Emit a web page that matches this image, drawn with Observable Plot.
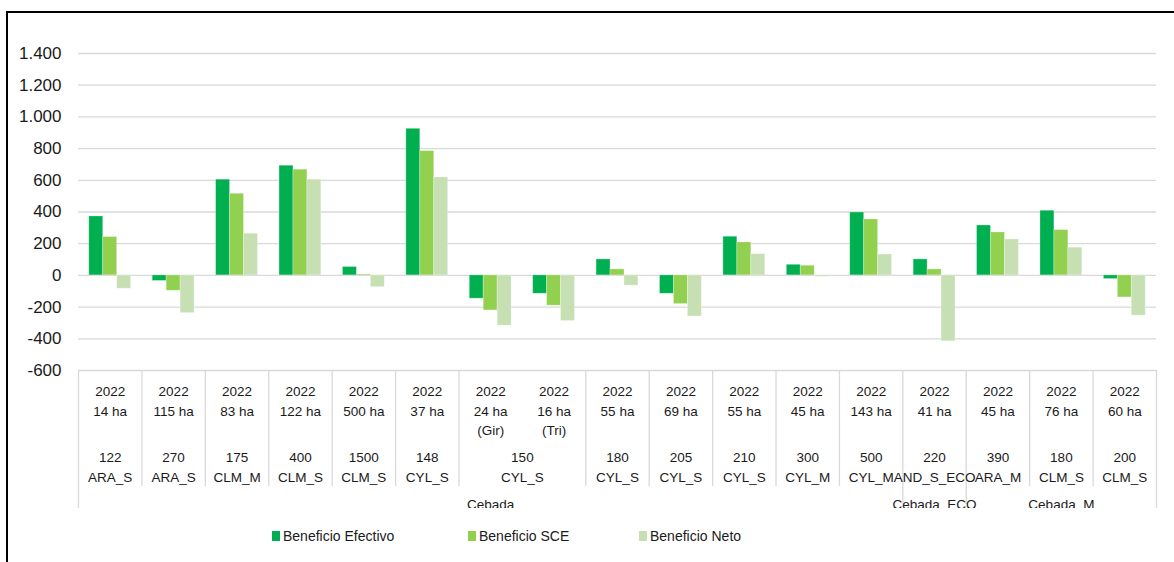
<!DOCTYPE html>
<html><head><meta charset="utf-8">
<script src="https://cdn.jsdelivr.net/npm/d3@7"></script>
<script src="https://cdn.jsdelivr.net/npm/@observablehq/plot@0.6"></script>
<style>
html,body{margin:0;padding:0;background:#fff;overflow:hidden;width:1174px;height:562px;}
#chart{position:absolute;left:0;top:0;}
#frame{position:absolute;left:6px;top:11px;width:1300px;height:700px;border:2px solid #000;pointer-events:none;}
#legend{position:absolute;left:0;top:526px;width:1174px;height:20px;font:14px "Liberation Sans",Arial,sans-serif;color:#1a1a1a;}
.item{position:absolute;top:0;display:flex;align-items:center;white-space:nowrap;height:20px;}
.sw{width:8px;height:10px;margin-right:3px;}
</style></head>
<body>
<div id="chart"></div>
<div id="legend"></div>
<div id="frame"></div>
<script>
const series = ["Beneficio Efectivo", "Beneficio SCE", "Beneficio Neto"];
const colors = ["#00B050", "#92D050", "#C6E0B4"];
const years = ["2022","2022","2022","2022","2022","2022","2022","2022","2022","2022","2022","2022","2022","2022","2022","2022","2022"];
const hectares = ["14 ha","115 ha","83 ha","122 ha","500 ha","37 ha","24 ha\n(Gir)","16 ha\n(Tri)","55 ha","69 ha","55 ha","45 ha","143 ha","41 ha","45 ha","76 ha","60 ha"];
const efectivo = [372, -35, 604, 692, 53, 925, -147, -116, 101, -116, 244, 67, 397, 101, 315, 408, -23];
const sce      = [242, -97, 515, 667, 6, 784, -221, -191, 38, -181, 208, 61, 353, 38, 271, 286, -139];
const neto     = [-84, -238, 263, 604, -74, 618, -317, -288, -65, -259, 134, -9, 132, -416, 227, 175, -254];
const level2Labels = ["122\nARA_S","270\nARA_S","175\nCLM_M","400\nCLM_S","1500\nCLM_S","148\nCYL_S","150\nCYL_S","180\nCYL_S","205\nCYL_S","210\nCYL_S","300\nCYL_M","500\nCYL_M","220\nAND_S_ECO","390\nARA_M","180\nCLM_S","200\nCLM_S"];
const level2Spans = [1,1,1,1,1,1,2,1,1,1,1,1,1,1,1,1];
const level3Labels = ["Cebada", "Cebada_ECO", "Cebada_M"];
const level3Spans = [13, 1, 3];

const values = [efectivo, sce, neto];
const n = years.length;
const barW = 0.22;
const start = (1 - 3 * barW) / 2;
const bars = [];
for (let i = 0; i < n; i++) {
  for (let k = 0; k < 3; k++) {
    bars.push({x1: i + start + k * barW, x2: i + start + (k + 1) * barW, v: values[k][i], s: series[k]});
  }
}
function groups(labels, spans) {
  let acc = 0;
  return labels.map((label, j) => {
    const a = acc; acc += spans[j];
    return {label, a, b: acc, c: (a + acc) / 2};
  });
}
const g2 = groups(level2Labels, level2Spans);
const g3 = groups(level3Labels, level3Spans);
const b3 = [...new Set(g3.flatMap(g => [g.a, g.b]))];
const outer = [0, n];
const inner3 = b3.filter(b => b !== 0 && b !== n);
const b2 = [...new Set(g2.flatMap(g => [g.a, g.b]))].filter(b => !b3.includes(b));
const cats = d3.range(n).map(i => ({c: i + 0.5, t: years[i] + "\n" + hectares[i]}));

const loc = d3.formatLocale({decimal: ",", thousands: ".", grouping: [3], currency: ["", "€"], minus: "-"});
const fmt = loc.format(",d");

const W = 1174, H = 508;
const bottomY = -600;
const plot = Plot.plot({
  width: W, height: H,
  marginLeft: 78, marginRight: 18, marginTop: 53, marginBottom: H - 370,
  style: {fontFamily: "'Liberation Sans', Arial, sans-serif", fontSize: "17px", color: "#1a1a1a", background: "transparent"},
  x: {domain: [0, n], axis: null},
  y: {domain: [-600, 1400], ticks: 10, tickSize: 0, tickPadding: 17, tickFormat: fmt, label: null},
  color: {domain: series, range: colors},
  marks: [
    Plot.ruleY(d3.range(-600, 1401, 200), {stroke: "#d9d9d9", strokeWidth: 1.3}),
    Plot.rect(bars, {x1: "x1", x2: "x2", y1: () => 0, y2: "v", fill: "s", stroke: "#ffffff", strokeOpacity: 0.35, strokeWidth: 0.8}),
    Plot.ruleX(b2, {x: d => d, y1: () => bottomY, y2: () => bottomY, insetBottom: -116, stroke: "#d9d9d9", strokeWidth: 1.3}),
    Plot.ruleX(inner3, {x: d => d, y1: () => bottomY, y2: () => bottomY, insetBottom: -134, stroke: "#d9d9d9", strokeWidth: 1.3}),
    Plot.ruleX(outer, {x: d => d, y1: () => bottomY, y2: () => bottomY, insetBottom: -150, stroke: "#d9d9d9", strokeWidth: 1.3}),
    Plot.text(cats, {x: "c", y: () => bottomY, text: "t", lineAnchor: "top", dy: 12, lineHeight: 1.43, fontSize: 13.5, fill: "#1a1a1a"}),
    Plot.text(g2, {x: "c", y: () => bottomY, text: "label", lineAnchor: "top", dy: 78, lineHeight: 1.43, fontSize: 13.5, fill: "#1a1a1a"}),
    Plot.text(g3, {x: "c", y: () => bottomY, text: "label", lineAnchor: "top", dy: 129, fontSize: 13.5, fill: "#1a1a1a"})
  ]
});
document.getElementById("chart").appendChild(plot);

const legend = document.getElementById("legend");
const legendLeft = [272, 468, 639];
series.forEach((s, k) => {
  const it = document.createElement("div");
  it.className = "item";
  it.style.left = legendLeft[k] + "px";
  it.innerHTML = `<span class="sw" style="background:${colors[k]}"></span><span>${s}</span>`;
  legend.appendChild(it);
});
</script>
</body></html>
